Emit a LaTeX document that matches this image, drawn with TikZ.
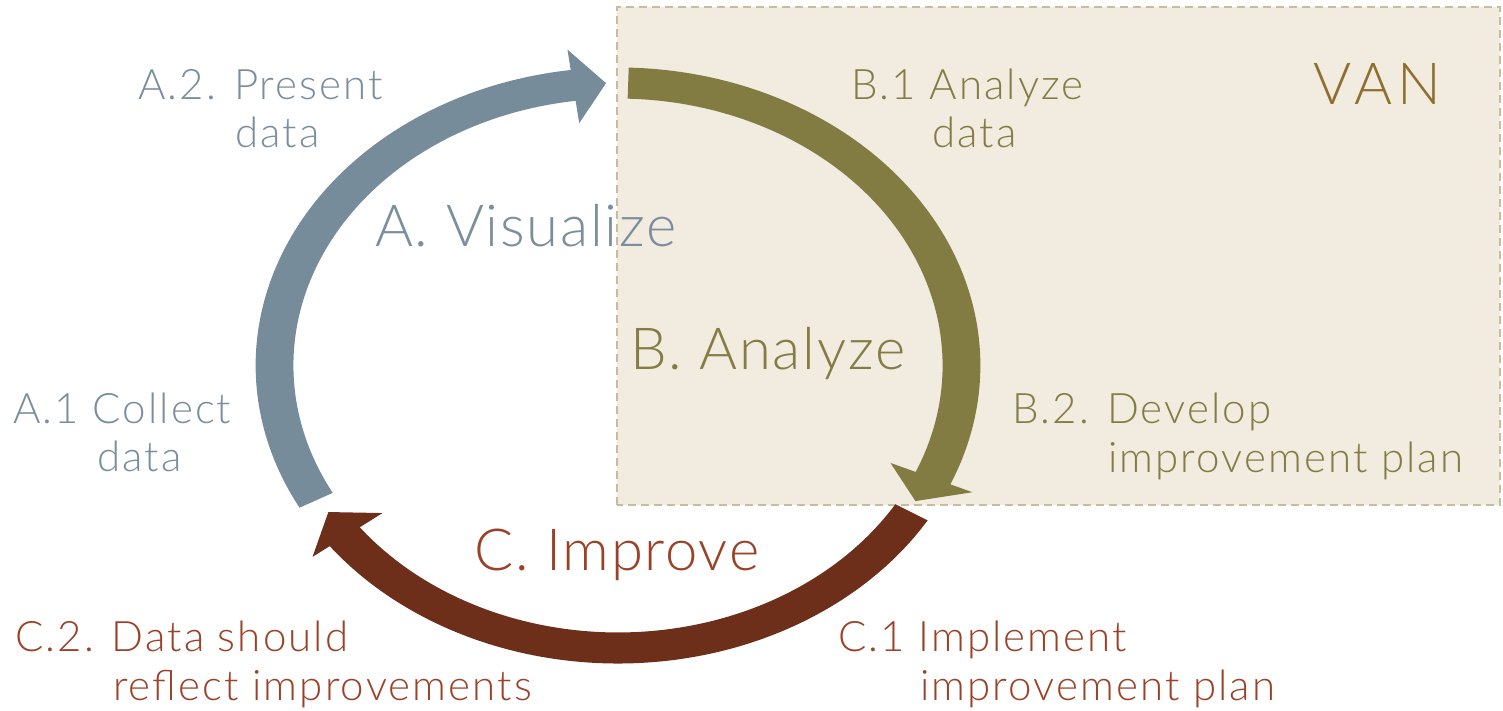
\documentclass[tikz,border=0pt]{standalone}
\usepackage{fontspec}
\IfFontExistsTF{Lato Light}{\setmainfont{Lato Light}}{\setmainfont{Lato}}
\definecolor{vanfill}{HTML}{F2EBE0}
\definecolor{vanedge}{HTML}{C9BBA0}
\definecolor{visblue}{HTML}{778C9B}
\definecolor{anaolive}{HTML}{827C43}
\definecolor{imprust}{HTML}{6E2F1A}
\definecolor{vistext}{HTML}{7A8E9C}
\definecolor{anatext}{HTML}{837C44}
\definecolor{imptext}{HTML}{9A4228}
\definecolor{vantext}{HTML}{8E6F30}
\begin{document}
\begin{tikzpicture}[x=1pt,y=1pt,
  lab/.style={anchor=base west, inner sep=0pt,
    font=\fontsize{42}{50}\selectfont\addfontfeature{LetterSpace=5}},
  biglab/.style={anchor=base west, inner sep=0pt,
    font=\fontsize{58}{66}\selectfont\addfontfeature{LetterSpace=3}}]
\useasboundingbox (0,0) rectangle (1503,710);

% VAN region
\fill[vanfill] (617,205) rectangle (1500,703);
\draw[vanedge, line width=1.5pt, dash pattern=on 8pt off 5pt] (617,205) rectangle (1500,703);

% circular arrows, drawn on a unit circle stretched to the ellipse
\begin{scope}[shift={(618,344.5)}, xscale=343.5, yscale=282.5]
  % A. Visualize
  \fill[visblue] (208.5:1.055) arc[start angle=208.5, end angle=97.5, radius=1.055]
    -- (97.5:1.128) -- (92:1.0) -- (97.5:0.865) -- (97.5:0.945)
    arc[start angle=97.5, end angle=208.5, radius=0.945] -- cycle;
  % B. Analyze
  \fill[anaolive] (88.3:1.055) arc[start angle=88.3, end angle=-23.5, radius=1.055]
    -- (-23.5:1.125) -- (-29:0.99) -- (-23.5:0.865) -- (-23.5:0.945)
    arc[start angle=-23.5, end angle=88.3, radius=0.945] -- cycle;
  % C. Improve
  \fill[imprust] (-31.3:1.055) arc[start angle=-31.3, end angle=-142.7, radius=1.055]
    -- (-142.7:1.118) -- (-148.4:0.99) -- (-142.7:0.862) -- (-142.7:0.945)
    arc[start angle=-142.7, end angle=-31.3, radius=0.945] -- cycle;
\end{scope}

% phase titles
\node[biglab, text=vistext] (visualize) at (375,463) {A. Visualize};
\node[biglab, text=anatext] (analyze) at (630,340) {B. Analyze};
\node[biglab, text=imptext] (improve) at (474,140) {C. Improve};
\node[biglab, text=vantext, font=\fontsize{58}{66}\selectfont\addfontfeature{LetterSpace=10}] (van) at (1313,605) {VAN};

% step labels
\node[lab, text=vistext] (a2a) at (138,610) {A.2. Present};
\node[lab, text=vistext] (a2b) at (235,562) {data};
\node[lab, text=vistext] (a1a) at (13,287) {A.1 Collect};
\node[lab, text=vistext] (a1b) at (97,239) {data};

\node[lab, text=anatext] (b1a) at (851,610) {B.1 Analyze};
\node[lab, text=anatext] (b1b) at (932,562) {data};
\node[lab, text=anatext] (b2a) at (1012,287) {B.2. Develop};
\node[lab, text=anatext] (b2b) at (1108,238) {improvement plan};

\node[lab, text=imptext] (c2a) at (15,59) {C.2. Data should};
\node[lab, text=imptext] (c2b) at (113,10) {reflect improvements};
\node[lab, text=imptext] (c1a) at (838,59) {C.1 Implement};
\node[lab, text=imptext] (c1b) at (920,10) {improvement plan};
\end{tikzpicture}
\end{document}
